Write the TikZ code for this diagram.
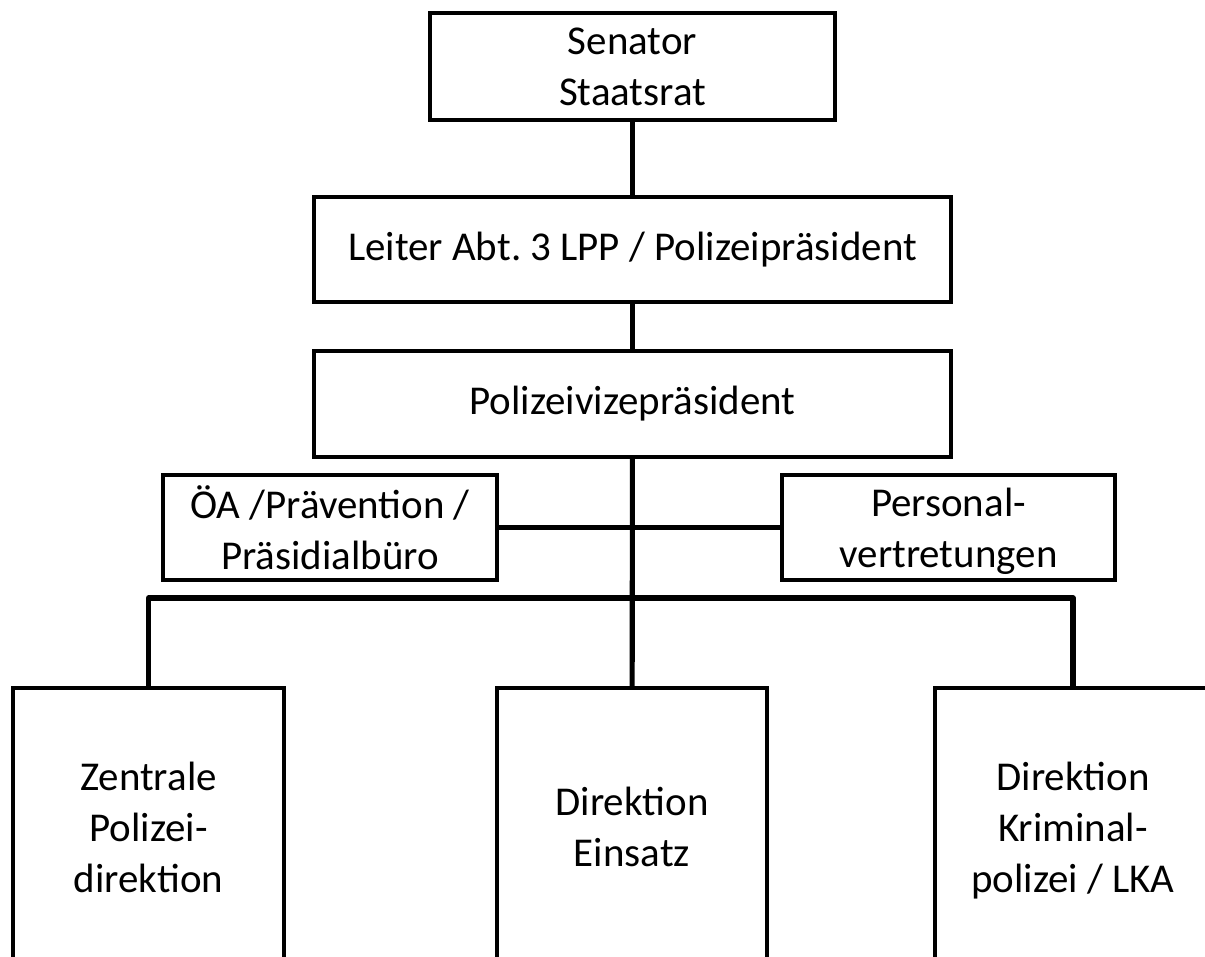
\documentclass[tikz,border=0pt]{standalone}
\usepackage{fontspec}
\setmainfont{Carlito}
\usepackage{amsmath}
\usepackage{tikz}

\begin{document}
\frenchspacing
\begin{tikzpicture}[
	box/.style={draw, line width=2.5pt, align=center, inner sep=0pt, fill=white,
		font=\fontsize{23.3}{29}\selectfont},
	conn/.style={line width=2.9pt}]
	\clip (0,0) rectangle (24.1,-19.14);
	\fill[white] (0,0) rectangle (24.1,-19.14);
	% top of the chain
	\node[box, minimum width=8.1cm, minimum height=2.14cm] (senator) at (12.65,-1.33) {Senator\\Staatsrat};
	\node[box, minimum width=12.74cm, minimum height=2.1cm] (leiter) at (12.65,-4.99) {Leiter Abt. 3 LPP / Polizeipräsident};
	\node[box, minimum width=12.74cm, minimum height=2.12cm] (vize) at (12.65,-8.08) {Polizeivizepräsident};
	% staff units
	\node[box, minimum width=6.68cm, minimum height=2.1cm] (oea) at (6.6,-10.55) {ÖA /Prävention /\\Präsidialbüro};
	\node[box, minimum width=6.66cm, minimum height=2.1cm] (personal) at (18.97,-10.55) {Personal-\\\smash[b]{vertretungen}};
	% directorates
	\node[box, minimum width=5.42cm, minimum height=5.56cm] (zentrale) at (2.97,-16.54) {Zentrale\\Polizei-\\direktion};
	\node[box, minimum width=5.4cm, minimum height=5.56cm] (einsatz) at (12.64,-16.54) {Direktion\\Einsatz};
	\node[box, minimum width=5.52cm, minimum height=5.56cm] (kriminal) at (21.46,-16.54) {Direktion\\Kriminal-\\\smash[b]{polizei / LKA}};
	\coordinate (bar) at (12.64,-11.96);
	\draw[conn] (senator) -- (leiter);
	\draw[conn] (leiter) -- (vize);
	\draw[conn] (vize) -- (einsatz);
	\draw[conn] (oea) -- (personal);
	\draw[conn, line join=round] (zentrale.north) |- (bar) -| (kriminal.north);
\end{tikzpicture}
\end{document}
